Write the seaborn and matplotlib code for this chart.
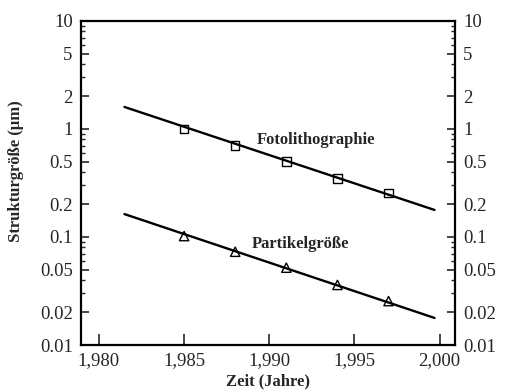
import matplotlib
matplotlib.use("Agg")
import matplotlib.pyplot as plt
import matplotlib.ticker as mticker
import seaborn as sns
import pandas as pd

# data
years = [1985, 1988, 1991, 1994, 1997]
foto = [1.0, 0.70, 0.50, 0.35, 0.255]
partikel = [0.102, 0.073, 0.052, 0.036, 0.0255]
fit_years = [1981.5, 1999.7]
foto_fit = [1.6, 0.178]
partikel_fit = [0.163, 0.0178]
yticks = [0.01, 0.02, 0.05, 0.1, 0.2, 0.5, 1, 2, 5, 10]
ytick_labels = ["0.01", "0.02", "0.05", "0.1", "0.2", "0.5", "1", "2", "5", "10"]
xticks = [1980, 1985, 1990, 1995, 2000]
xtick_labels = ["1,980", "1,985", "1,990", "1,995", "2,000"]

sns.set_style("ticks")
plt.rcParams["font.family"] = ["Liberation Serif", "DejaVu Serif"]

fig = plt.figure(figsize=(5.07, 3.90), dpi=100)
ax = fig.add_axes([81 / 507, 1 - 345 / 390, (455 - 81) / 507, (345 - 21) / 390])

pts = pd.DataFrame({"year": years, "foto": foto, "partikel": partikel})
fits = pd.DataFrame({"year": fit_years, "foto": foto_fit, "partikel": partikel_fit})

sns.lineplot(data=fits, x="year", y="foto", ax=ax, color="black", linewidth=1.7)
sns.lineplot(data=fits, x="year", y="partikel", ax=ax, color="black", linewidth=1.7)
sns.scatterplot(data=pts, x="year", y="foto", ax=ax, marker="s", s=38,
                facecolor="none", edgecolor="black", linewidth=1.0, zorder=3)
sns.scatterplot(data=pts, x="year", y="partikel", ax=ax, marker="^", s=45,
                facecolor="none", edgecolor="black", linewidth=1.0, zorder=3)

ax.set_yscale("log")
ax.set_ylim(0.01, 10)
ax.set_xlim(1978.95, 2000.9)
ax.set_yticks(yticks)
ax.set_yticklabels(ytick_labels)
ax.yaxis.set_minor_locator(mticker.FixedLocator([0.03, 0.04, 0.06, 0.07, 0.08, 0.09,
                                                 0.3, 0.4, 0.6, 0.7, 0.8, 0.9,
                                                 3, 4, 6, 7, 8, 9]))
ax.yaxis.set_minor_formatter(mticker.NullFormatter())
ax.set_xticks(xticks)
ax.set_xticklabels(xtick_labels)

ax.tick_params(axis="y", which="major", direction="in", length=6, width=1.2,
               left=True, right=True, labelleft=True, labelright=True,
               labelsize=13.5, pad=6)
ax.tick_params(axis="y", which="minor", direction="in", length=3, width=1.0,
               left=True, right=True)
ax.tick_params(axis="x", which="major", direction="in", length=8, width=1.2,
               bottom=True, top=False, labelsize=13.5, pad=5)
ax.tick_params(axis="x", which="minor", bottom=False, top=False)

for sp in ax.spines.values():
    sp.set_visible(True)
    sp.set_linewidth(1.6)
    sp.set_color("black")

ax.set_xlabel("Zeit (Jahre)", fontsize=12, fontweight="bold", labelpad=3)
ax.set_ylabel("Strukturgröße (µm)", fontsize=12, fontweight="bold")
ax.yaxis.set_label_coords(-0.152, 0.537)

ax.text(1989.25, 0.79, "Fotolithographie", fontsize=12, fontweight="bold",
        ha="left", va="center")
ax.text(1989.0, 0.086, "Partikelgröße", fontsize=12, fontweight="bold",
        ha="left", va="center")

fig.savefig("out.png", dpi=100, facecolor="white")
